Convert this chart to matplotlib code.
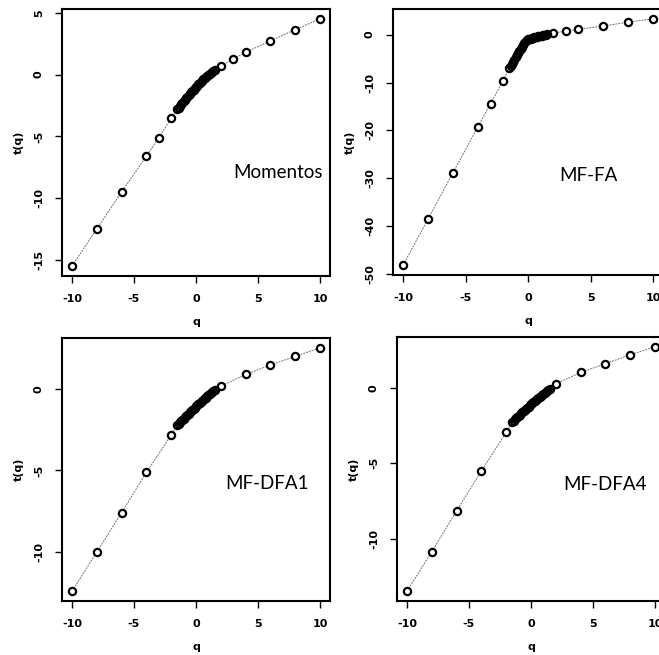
import numpy as np
import matplotlib
matplotlib.use("Agg")
import matplotlib.pyplot as plt

plt.rcParams["axes.unicode_minus"] = False

# q values: coarse tails plus a dense centre band
q_dense = [round(-1.5 + 0.1 * i, 1) for i in range(31)]

q_mom = [-10, -8, -6, -4, -3, -2] + q_dense + [2, 3, 4, 6, 8, 10]
tau_mom = ([-15.5, -12.5, -9.5, -6.6, -5.1, -3.55] +
           [-2.80, -2.67, -2.54, -2.41, -2.28, -2.16, -2.03, -1.91, -1.79, -1.67,
            -1.56, -1.44, -1.33, -1.22, -1.11, -1.00, -0.89, -0.79, -0.69, -0.59,
            -0.49, -0.39, -0.30, -0.20, -0.11, -0.02, 0.07, 0.15, 0.24, 0.32, 0.40] +
           [0.68, 1.27, 1.81, 2.73, 3.65, 4.51])

q_fa = [-10, -8, -6, -4, -3, -2] + q_dense + [2, 3, 4, 6, 8, 10]
tau_fa = ([-48.1, -38.5, -28.8, -19.2, -14.4, -9.65] +
          [-7.0, -6.55, -6.1, -5.65, -5.2, -4.75, -4.3, -3.85, -3.4, -2.95,
           -2.55, -2.15, -1.75, -1.4, -1.15, -1.0, -0.9, -0.82, -0.74, -0.66,
           -0.58, -0.51, -0.44, -0.37, -0.3, -0.24, -0.18, -0.12, -0.06, 0.0, 0.05] +
          [0.35, 0.7, 1.1, 1.8, 2.6, 3.3])

q_dfa1 = [-10, -8, -6, -4, -2] + q_dense + [2, 4, 6, 8, 10]
tau_dfa1 = ([-12.45, -10.04, -7.61, -5.12, -2.82] +
            [-2.20, -2.12, -2.04, -1.96, -1.88, -1.80, -1.72, -1.65, -1.57, -1.49,
             -1.42, -1.34, -1.27, -1.19, -1.12, -1.05, -0.98, -0.91, -0.84, -0.77,
             -0.70, -0.63, -0.56, -0.50, -0.43, -0.37, -0.30, -0.24, -0.17, -0.11, -0.05] +
            [0.2, 0.92, 1.51, 2.04, 2.57])

q_dfa4 = [-10, -8, -6, -4, -2] + q_dense + [2, 4, 6, 8, 10]
tau_dfa4 = ([-13.49, -10.88, -8.17, -5.52, -2.95] +
            [-2.25, -2.17, -2.09, -2.01, -1.93, -1.86, -1.78, -1.70, -1.62, -1.55,
             -1.47, -1.40, -1.32, -1.25, -1.17, -1.10, -1.03, -0.95, -0.88, -0.81,
             -0.74, -0.67, -0.60, -0.53, -0.46, -0.39, -0.32, -0.25, -0.18, -0.12, -0.05] +
            [0.26, 1.02, 1.59, 2.19, 2.72])

names = ["Momentos", "MF-FA", "MF-DFA1", "MF-DFA4"]
xticks = [-10, -5, 0, 5, 10]
yticks = [[-15, -10, -5, 0, 5], [-50, -40, -30, -20, -10, 0], [-10, -5, 0], [-10, -5, 0]]

W, H = 659, 655
fig = plt.figure(figsize=(W / 100, H / 100), dpi=100)
fig.patch.set_facecolor("white")

# axes boxes in pixels: left, right, top, bottom
boxes = [(62, 330, 9, 276), (393, 663, 9, 275), (62, 330, 338, 601), (397, 665, 337, 601)]
label_pos = [(6.6, -7.95), (4.8, -29.3), (5.7, -5.8), (6.0, -6.4)]
series = [(q_mom, tau_mom), (q_fa, tau_fa), (q_dfa1, tau_dfa1), (q_dfa4, tau_dfa4)]

for i, (l, r, t, b) in enumerate(boxes):
    ax = fig.add_axes([l / W, (H - b) / H, (r - l) / W, (b - t) / H])
    q, tau = series[i]
    ax.plot(q, tau, color="0.45", lw=0.7, ls=(0, (2, 1)), zorder=1)
    # white fill first, then all rings on top so the dense part reads as a band
    ax.plot(q, tau, ls="none", marker="o", ms=5.2, mfc="white", mec="none", zorder=2)
    ax.plot(q, tau, ls="none", marker="o", ms=5.2, mfc="none", mec="black", mew=1.6, zorder=3)
    ax.margins(x=0.04, y=0.04)
    ax.set_xticks(xticks)
    ax.set_yticks(yticks[i])
    ax.tick_params(direction="out", length=5, width=1, labelsize=8, pad=8)
    for lab in ax.get_xticklabels():
        lab.set_fontweight("bold")
    for lab in ax.get_yticklabels():
        lab.set_fontweight("bold")
        lab.set_rotation(90)
        lab.set_va("center")
    for s in ax.spines.values():
        s.set_linewidth(1.5)
    ax.set_xlabel("q", fontsize=8, fontweight="bold", labelpad=9)
    ax.set_ylabel("t(q)", fontsize=8, fontweight="bold", labelpad=7)
    ax.text(label_pos[i][0], label_pos[i][1], names[i], fontsize=13.5,
            family="Lato", ha="center", va="center")

fig.savefig("out.png", dpi=100)
